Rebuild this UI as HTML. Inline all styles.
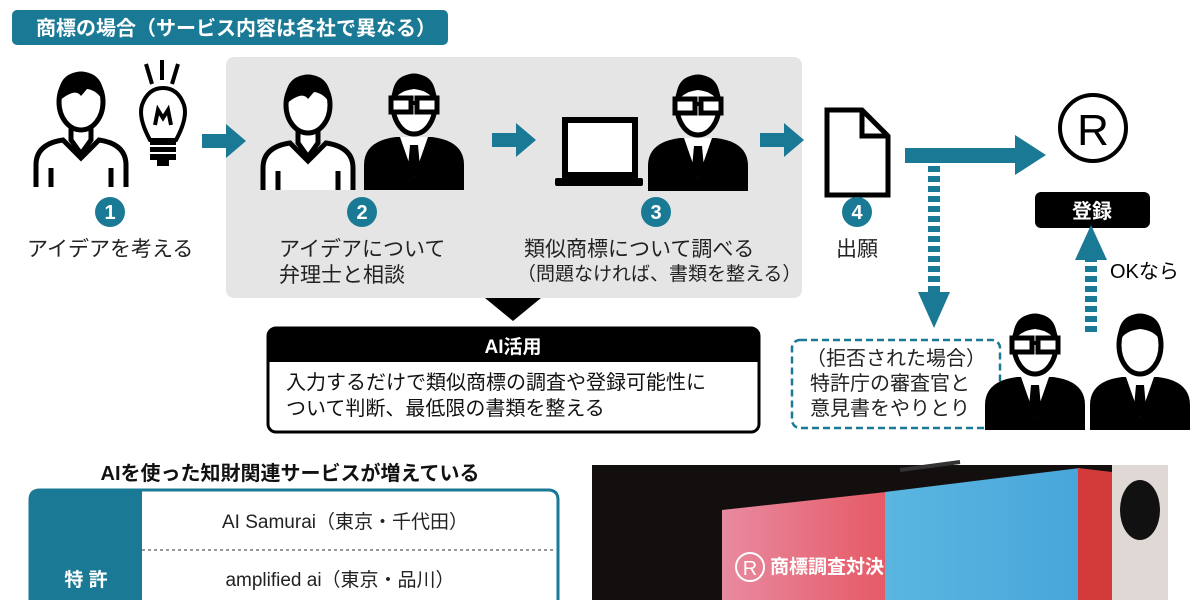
<!DOCTYPE html>
<html><head><meta charset="utf-8"><style>
html,body{margin:0;padding:0;background:#fff;width:1200px;height:600px;overflow:hidden}
svg{display:block}
text{font-family:"Liberation Sans","Noto Sans CJK JP",sans-serif}
</style></head><body>
<svg width="1200" height="600" viewBox="0 0 1200 600" xmlns="http://www.w3.org/2000/svg">
<defs>
<g id="pout">
 <path d="M5,125 L5,103 Q5,82 32,78 L50,96 L68,78 Q95,82 95,103 L95,125" fill="#fff" stroke="#000" stroke-width="5"/>
 <line x1="20" y1="106" x2="20" y2="125" stroke="#000" stroke-width="5"/>
 <line x1="80" y1="106" x2="80" y2="125" stroke="#000" stroke-width="5"/>
 <rect x="40" y="62" width="20" height="20" fill="#fff"/>
 <path d="M40,62 L40,78 L50,92 L60,78 L60,62" fill="#fff" stroke="#000" stroke-width="5"/>
 <ellipse cx="50" cy="40" rx="22" ry="28" fill="#fff" stroke="#000" stroke-width="5"/>
 <path d="M27,40 Q26,10 50,10 Q74,10 73,40 Q66,28 56,27 L50,34 Q44,25 27,40 Z" fill="#000"/>
</g>
<g id="psuit">
 <path d="M0,125 L0,100 Q0,76 32,72 L68,72 Q100,76 100,100 L100,125 Z" fill="#000"/>
 <polygon points="36,72 50,112 64,72" fill="#fff"/>
 <polygon points="46,80 54,80 56,102 50,112 44,102" fill="#000"/>
 <ellipse cx="50" cy="40" rx="21" ry="29" fill="#fff" stroke="#000" stroke-width="5"/>
 <path d="M28,40 Q26,9 50,9 Q74,9 72,40 Q68,26 50,24 Q32,26 28,40 Z" fill="#000"/>
</g>
<g id="pglass">
 <use href="#psuit"/>
 <rect x="27" y="33" width="20" height="14" fill="#fff" stroke="#000" stroke-width="5"/>
 <rect x="53" y="33" width="20" height="14" fill="#fff" stroke="#000" stroke-width="5"/>
 <line x1="47" y1="38" x2="53" y2="38" stroke="#000" stroke-width="4"/>
</g>
<g id="arr"><rect x="0" y="-7" width="26" height="14" fill="#1a7a95"/><polygon points="24,-17 44,0 24,17" fill="#1a7a95"/></g>
</defs>

<!-- title bar -->
<rect x="12" y="10" width="436" height="35" rx="5" fill="#1a7a95"/>
<text x="36" y="35" font-size="20" font-weight="bold" fill="#fff">商標の場合（サービス内容は各社で異なる）</text>

<!-- gray panel -->
<rect x="226" y="57" width="576" height="241" rx="8" fill="#e5e5e5"/>

<!-- person 1 + bulb -->
<use href="#pout" transform="translate(31,62)"/>
<g stroke="#000" stroke-width="4" fill="none">
 <line x1="146" y1="64" x2="152" y2="84"/><line x1="162" y1="60" x2="162" y2="80"/><line x1="178" y1="64" x2="172" y2="84"/>
 <path d="M150,140 Q138,118 142,105 Q148,88 163,88 Q178,88 184,105 Q188,118 176,140 Z" fill="#fff"/>
 <path d="M155,125 L158,110 L163,118 L168,110 L171,125"/>
</g>
<rect x="150" y="140" width="26" height="20" fill="#000"/>
<line x1="150" y1="146" x2="176" y2="146" stroke="#fff" stroke-width="2"/><line x1="150" y1="153" x2="176" y2="153" stroke="#fff" stroke-width="2"/>
<rect x="157" y="160" width="12" height="6" fill="#000"/>

<use href="#arr" transform="translate(202,141)"/>

<use href="#pout" transform="translate(258,65)"/>
<use href="#pglass" transform="translate(364,65)"/>

<use href="#arr" transform="translate(492,140)"/>

<!-- laptop -->
<rect x="565" y="120" width="70" height="55" fill="#fff" stroke="#000" stroke-width="6"/>
<rect x="555" y="178" width="88" height="8" rx="2" fill="#000"/>
<use href="#pglass" transform="translate(648,66)"/>

<use href="#arr" transform="translate(760,140)"/>

<!-- doc -->
<path d="M827,110 L862,110 L888,136 L888,195 L827,195 Z" fill="#fff" stroke="#000" stroke-width="5"/>
<path d="M862,110 L862,136 L888,136" fill="none" stroke="#000" stroke-width="5"/>

<!-- long arrow -->
<rect x="905" y="148" width="115" height="15" fill="#1a7a95"/>
<polygon points="1015,135 1046,155 1015,175" fill="#1a7a95"/>

<!-- R -->
<circle cx="1093" cy="128" r="33" fill="#fff" stroke="#000" stroke-width="4"/>
<text x="1093" y="145" font-size="44" text-anchor="middle" fill="#000">R</text>
<rect x="1035" y="192" width="115" height="36" rx="6" fill="#000"/>
<text x="1092" y="218" font-size="20" font-weight="bold" text-anchor="middle" fill="#fff">登録</text>

<!-- dotted down -->
<line x1="934" y1="166" x2="934" y2="294" stroke="#1a7a95" stroke-width="12" stroke-dasharray="6,4"/>
<polygon points="918,292 950,292 934,328" fill="#1a7a95"/>
<!-- dotted up -->
<line x1="1091" y1="332" x2="1091" y2="258" stroke="#1a7a95" stroke-width="12" stroke-dasharray="6,4"/>
<polygon points="1075,260 1107,260 1091,225" fill="#1a7a95"/>
<text x="1110" y="278" font-size="20" fill="#000">OKなら</text>

<!-- step circles -->
<g font-size="20" font-weight="bold" fill="#fff" text-anchor="middle">
<circle cx="110" cy="212" r="15" fill="#1a7a95"/><text x="110" y="219">1</text>
<circle cx="362" cy="212" r="15" fill="#1a7a95"/><text x="362" y="219">2</text>
<circle cx="656" cy="212" r="15" fill="#1a7a95"/><text x="656" y="219">3</text>
<circle cx="857" cy="212" r="15" fill="#1a7a95"/><text x="857" y="219">4</text>
</g>

<g font-size="21" fill="#222">
<text x="27" y="256">アイデアを考える</text>
<text x="279" y="256">アイデアについて</text>
<text x="279" y="282">弁理士と相談</text>
<text x="524" y="256">類似商標について調べる</text>
<text x="517" y="280" font-size="19">（問題なければ、書類を整える）</text>
<text x="836" y="256">出願</text>
</g>

<!-- AI box -->
<polygon points="485,298 541,298 513,321" fill="#000"/>
<rect x="268" y="328" width="491" height="104" rx="8" fill="#fff" stroke="#000" stroke-width="3"/>
<path d="M268,362 L268,336 Q268,328 276,328 L751,328 Q759,328 759,336 L759,362 Z" fill="#000"/>
<text x="513" y="353" font-size="19" font-weight="bold" fill="#fff" text-anchor="middle">AI活用</text>
<text x="286" y="389" font-size="20" fill="#111">入力するだけで類似商標の調査や登録可能性に</text>
<text x="286" y="415" font-size="20" fill="#111">ついて判断、最低限の書類を整える</text>

<!-- dashed box -->
<rect x="792" y="340" width="208" height="88" rx="8" fill="#fff" stroke="#1a7a95" stroke-width="2.5" stroke-dasharray="7,4"/>
<g font-size="20" fill="#222">
<text x="806" y="365">（拒否された場合）</text>
<text x="810" y="390">特許庁の審査官と</text>
<text x="810" y="415">意見書をやりとり</text>
</g>
<use href="#pglass" transform="translate(985,305)"/>
<use href="#psuit" transform="translate(1090,305)"/>

<!-- bottom table -->
<text x="290" y="480" font-size="20" font-weight="bold" text-anchor="middle" fill="#111">AIを使った知財関連サービスが増えている</text>
<path d="M30,610 L30,500 Q30,490 40,490 L548,490 Q558,490 558,500 L558,610" fill="#fff" stroke="#1a7a95" stroke-width="3"/>
<path d="M30,610 L30,500 Q30,490 40,490 L142,490 L142,610 Z" fill="#1a7a95"/>
<line x1="142" y1="550" x2="556" y2="550" stroke="#777" stroke-width="1.5" stroke-dasharray="3,3"/>
<text x="86" y="586" font-size="19" font-weight="bold" fill="#fff" text-anchor="middle">特 許</text>
<text x="345" y="528" font-size="19" fill="#222" text-anchor="middle">AI Samurai（東京・千代田）</text>
<text x="340" y="586" font-size="19" fill="#222" text-anchor="middle">amplified ai（東京・品川）</text>

<!-- photo -->
<rect x="592" y="465" width="576" height="135" fill="#140f0f"/>
<defs>
<linearGradient id="pk" x1="0" x2="1"><stop offset="0" stop-color="#e88aa0"/><stop offset="1" stop-color="#e65a66"/></linearGradient>
<linearGradient id="bl" x1="0" x2="1"><stop offset="0" stop-color="#5ab6e0"/><stop offset="1" stop-color="#48a6da"/></linearGradient>
</defs>
<polygon points="722,510 886,492 886,600 722,600" fill="url(#pk)"/>
<polygon points="885,492 1080,468 1080,600 885,600" fill="url(#bl)"/>
<polygon points="1078,468 1112,472 1112,600 1078,600" fill="#d33a3a"/>
<rect x="1112" y="465" width="56" height="135" fill="#e0d8d5"/>
<ellipse cx="1140" cy="510" rx="20" ry="30" fill="#111"/>
<line x1="900" y1="470" x2="960" y2="462" stroke="#333" stroke-width="4"/>
<circle cx="750" cy="567" r="14" fill="none" stroke="#fff" stroke-width="2"/>
<text x="750" y="575" font-size="20" fill="#fff" text-anchor="middle" font-family="Liberation Serif,serif">R</text>
<text x="770" y="573" font-size="19" font-weight="bold" fill="#fff">商標調査対決</text>
</svg>
</body></html>
